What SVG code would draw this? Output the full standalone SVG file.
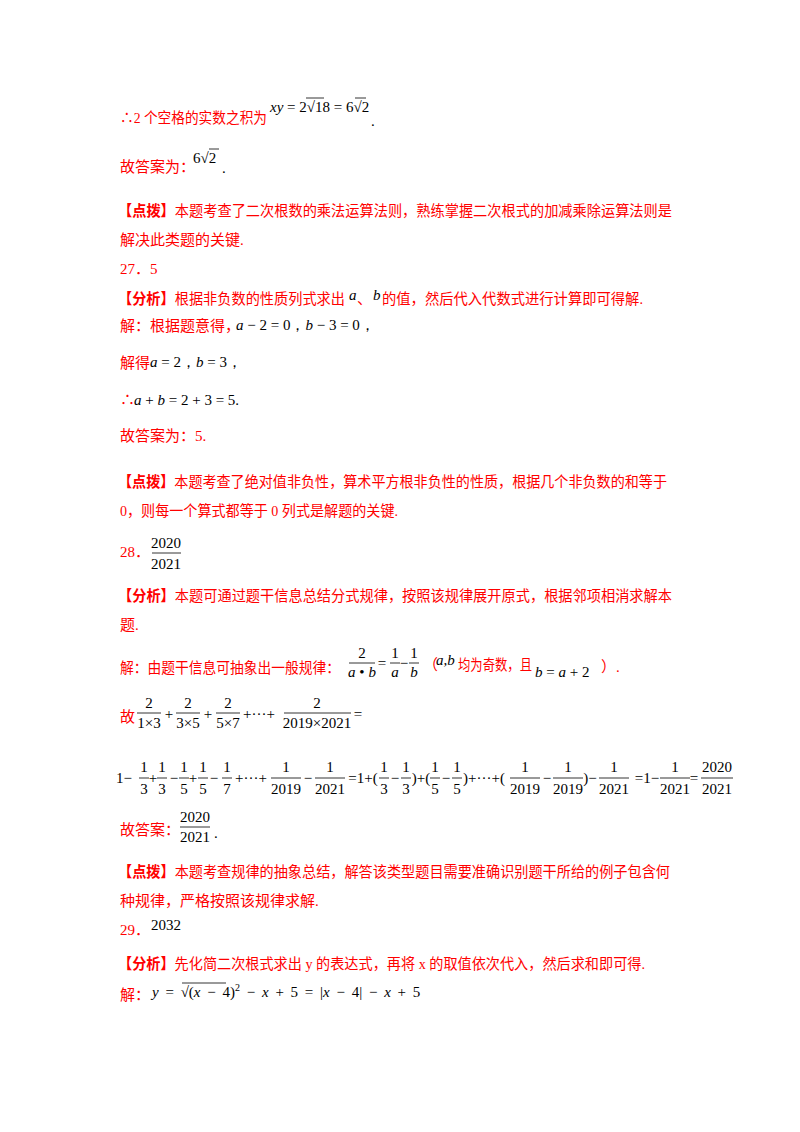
<svg xmlns="http://www.w3.org/2000/svg" width="800" height="1132" viewBox="0 0 800 1132">
<style>
.r{fill:#ff0000;font-family:"Liberation Serif","Noto Sans CJK SC",serif;font-size:15px}
.b{font-weight:bold}
.m{fill:#000;font-family:"Liberation Serif",serif;font-size:15px}
.c{text-anchor:middle}
.i{font-style:italic}
.fl{stroke:#000;stroke-width:0.8}
</style>
<rect width="800" height="1132" fill="#fff"/>
<text class="r" x="120" y="123" textLength="147" lengthAdjust="spacingAndGlyphs">∴2 个空格的实数之积为</text>
<text class="m" x="270" y="112"><tspan class="i">xy</tspan> = 2√18 = 6√2</text>
<line class="fl" x1="306" y1="98" x2="324" y2="98"/><line class="fl" x1="355" y1="98" x2="366" y2="98"/>
<text class="m" x="371" y="126">.</text>
<text class="r" x="120" y="172">故答案为：</text>
<text class="m" x="193" y="163">6√2</text><line class="fl" x1="209" y1="149" x2="219" y2="149"/>
<text class="m" x="222" y="173">.</text>
<text class="r" x="118" y="216" textLength="554" lengthAdjust="spacingAndGlyphs"><tspan class="b">【点拨】</tspan>本题考查了二次根数的乘法运算法则，熟练掌握二次根式的加减乘除运算法则是</text>
<text class="r" x="120" y="245">解决此类题的关键.</text>
<text class="r" x="120" y="274">27．5</text>
<text class="r" x="118" y="304" textLength="227" lengthAdjust="spacingAndGlyphs"><tspan class="b">【分析】</tspan>根据非负数的性质列式求出</text>
<text class="m i" x="349" y="300">a</text><text class="r" x="357" y="304">、</text><text class="m i" x="373" y="300">b</text>
<text class="r" x="382" y="304" textLength="261" lengthAdjust="spacingAndGlyphs">的值，然后代入代数式进行计算即可得解.</text>
<text class="r" x="120" y="331">解：根据题意得，</text>
<text class="m" x="236" y="330"><tspan class="i">a</tspan> − 2 = 0，<tspan class="i">b</tspan> − 3 = 0，</text>
<text class="r" x="120" y="368">解得</text><text class="m" x="150" y="367"><tspan class="i">a</tspan> = 2，<tspan class="i">b</tspan> = 3，</text>
<text class="r" x="120" y="405">∴</text><text class="m" x="134" y="405"><tspan class="i">a</tspan> + <tspan class="i">b</tspan> = 2 + 3 = 5.</text>
<text class="r" x="120" y="441">故答案为：5.</text>
<text class="r" x="118" y="487" textLength="549" lengthAdjust="spacingAndGlyphs"><tspan class="b">【点拨】</tspan>本题考查了绝对值非负性，算术平方根非负性的性质，根据几个非负数的和等于</text>
<text class="r" x="120" y="516" textLength="278" lengthAdjust="spacingAndGlyphs">0，则每一个算式都等于 0 列式是解题的关键.</text>
<text class="r" x="120" y="557">28．</text>
<g class="m c"><text x="166" y="548">2020</text><text x="166" y="569">2021</text></g><line class="fl" x1="152" y1="553" x2="181" y2="553"/>
<text class="r" x="118" y="601" textLength="554" lengthAdjust="spacingAndGlyphs"><tspan class="b">【分析】</tspan>本题可通过题干信息总结分式规律，按照该规律展开原式，根据邻项相消求解本</text>
<text class="r" x="120" y="630">题.</text>
<text class="r" x="120" y="673" textLength="220" lengthAdjust="spacingAndGlyphs">解：由题干信息可抽象出一般规律：</text>
<g class="m c">
<text x="362" y="658">2</text><text x="362" y="677"><tspan class="i">a</tspan> • <tspan class="i">b</tspan></text>
<text x="382" y="668">=</text>
<text x="395" y="658">1</text><text x="395" y="677" class="i">a</text>
<text x="404" y="668">−</text>
<text x="414" y="658">1</text><text x="414" y="677" class="i">b</text>
</g>
<line class="fl" x1="349" y1="663" x2="375" y2="663"/><line class="fl" x1="390" y1="663" x2="400" y2="663"/><line class="fl" x1="409" y1="663" x2="419" y2="663"/>
<text class="r" x="423" y="670">（</text>
<text class="m i" x="436" y="665">a,b</text>
<text class="r" x="458" y="670" textLength="74" lengthAdjust="spacingAndGlyphs">均为奇数，且</text>
<text class="m" x="535" y="677"><tspan class="i">b</tspan> = <tspan class="i">a</tspan> + 2</text>
<text class="r" x="601" y="672">）.</text>
<text class="r" x="120" y="722">故</text>
<g class="m c">
<text x="149" y="708">2</text><text x="149" y="728">1×3</text>
<text x="169" y="719">+</text>
<text x="188" y="708">2</text><text x="188" y="728">3×5</text>
<text x="208" y="719">+</text>
<text x="228" y="708">2</text><text x="228" y="728">5×7</text>
<text x="259" y="719">+···+</text>
<text x="317" y="708">2</text><text x="317" y="728">2019×2021</text>
<text x="358" y="719">=</text>
</g>
<line class="fl" x1="137" y1="713" x2="161" y2="713"/><line class="fl" x1="176" y1="713" x2="200" y2="713"/><line class="fl" x1="216" y1="713" x2="240" y2="713"/><line class="fl" x1="284" y1="713" x2="351" y2="713"/>
<g class="m c">
<text x="124" y="783">1−</text>
<text x="144" y="772">1</text><text x="144" y="794">3</text>
<text x="153" y="783">+</text>
<text x="162" y="772">1</text><text x="162" y="794">3</text>
<text x="174" y="783">−</text>
<text x="184" y="772">1</text><text x="184" y="794">5</text>
<text x="193" y="783">+</text>
<text x="203" y="772">1</text><text x="203" y="794">5</text>
<text x="214" y="783">−</text>
<text x="227" y="772">1</text><text x="227" y="794">7</text>
<text x="251" y="783">+···+</text>
<text x="286" y="772">1</text><text x="286" y="794">2019</text>
<text x="308" y="783">−</text>
<text x="330" y="772">1</text><text x="330" y="794">2021</text>
<text x="363" y="783">=1+(</text>
<text x="384" y="772">1</text><text x="384" y="794">3</text>
<text x="395" y="783">−</text>
<text x="406" y="772">1</text><text x="406" y="794">3</text>
<text x="421" y="783">)+(</text>
<text x="435" y="772">1</text><text x="435" y="794">5</text>
<text x="446" y="783">−</text>
<text x="457" y="772">1</text><text x="457" y="794">5</text>
<text x="484" y="783">)+···+(</text>
<text x="525" y="772">1</text><text x="525" y="794">2019</text>
<text x="547" y="783">−</text>
<text x="568" y="772">1</text><text x="568" y="794">2019</text>
<text x="590" y="783">)−</text>
<text x="614" y="772">1</text><text x="614" y="794">2021</text>
<text x="647" y="783">=1−</text>
<text x="675" y="772">1</text><text x="675" y="794">2021</text>
<text x="694" y="783">=</text>
<text x="717" y="772">2020</text><text x="717" y="794">2021</text>
</g>
<g class="fl">
<line x1="139" y1="778" x2="149" y2="778"/><line x1="157" y1="778" x2="167" y2="778"/><line x1="179" y1="778" x2="189" y2="778"/><line x1="198" y1="778" x2="208" y2="778"/><line x1="222" y1="778" x2="232" y2="778"/>
<line x1="271" y1="778" x2="301" y2="778"/><line x1="315" y1="778" x2="345" y2="778"/>
<line x1="379" y1="778" x2="389" y2="778"/><line x1="401" y1="778" x2="411" y2="778"/><line x1="430" y1="778" x2="440" y2="778"/><line x1="452" y1="778" x2="462" y2="778"/>
<line x1="510" y1="778" x2="540" y2="778"/><line x1="553" y1="778" x2="583" y2="778"/><line x1="599" y1="778" x2="629" y2="778"/><line x1="660" y1="778" x2="690" y2="778"/><line x1="701" y1="778" x2="733" y2="778"/>
</g>
<text class="r" x="120" y="835">故答案：</text>
<g class="m c"><text x="195" y="822">2020</text><text x="195" y="842">2021</text></g><line class="fl" x1="180" y1="827" x2="210" y2="827"/>
<text class="m" x="214" y="838">.</text>
<text class="r" x="118" y="877" textLength="552" lengthAdjust="spacingAndGlyphs"><tspan class="b">【点拨】</tspan>本题考查规律的抽象总结，解答该类型题目需要准确识别题干所给的例子包含何</text>
<text class="r" x="120" y="906">种规律，严格按照该规律求解.</text>
<text class="r" x="120" y="935">29．</text><text class="m" x="151" y="930">2032</text>
<text class="r" x="118" y="969" textLength="527" lengthAdjust="spacingAndGlyphs"><tspan class="b">【分析】</tspan>先化简二次根式求出 y 的表达式，再将 x 的取值依次代入，然后求和即可得.</text>
<text class="r" x="120" y="1000">解：</text>
<text class="m" x="152" y="997" word-spacing="3"><tspan class="i">y</tspan> = √(<tspan class="i">x</tspan> − 4)<tspan dy="-6" font-size="10">2</tspan><tspan dy="6"> − </tspan><tspan class="i">x</tspan> + 5 = |<tspan class="i">x</tspan> − 4| − <tspan class="i">x</tspan> + 5</text>
<line class="fl" x1="182" y1="983" x2="226" y2="983"/>
</svg>
